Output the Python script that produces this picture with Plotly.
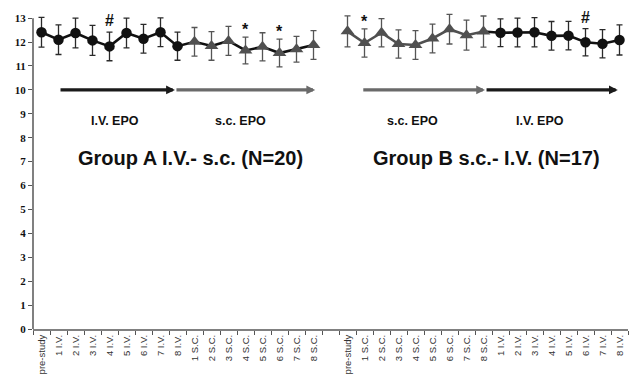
import plotly.graph_objects as go

# ---------------- data ----------------
cats_A = ["pre-study", "1 I.V.", "2 I.V.", "3 I.V.", "4 I.V.", "5 I.V.", "6 I.V.", "7 I.V.", "8 I.V.",
          "1 S.C.", "2 S.C.", "3 S.C.", "4 S.C.", "5 S.C.", "6 S.C.", "7 S.C.", "8 S.C."]
cats_B = ["pre-study", "1 S.C.", "2 S.C.", "3 S.C.", "4 S.C.", "5 S.C.", "6 S.C.", "7 S.C.", "8 S.C.",
          "1 I.V.", "2 I.V.", "3 I.V.", "4 I.V.", "5 I.V.", "6 I.V.", "7 I.V.", "8 I.V."]

A_mean = [12.41, 12.10, 12.38, 12.07, 11.82, 12.38, 12.14, 12.41, 11.83,
          12.01, 11.84, 12.05, 11.65, 11.80, 11.54, 11.70, 11.88]
A_sd = [0.62, 0.62, 0.62, 0.63, 0.60, 0.62, 0.60, 0.60, 0.59,
        0.60, 0.60, 0.61, 0.56, 0.59, 0.58, 0.54, 0.60]

B_mean = [12.45, 11.96, 12.39, 11.92, 11.88, 12.15, 12.54, 12.29, 12.44,
          12.39, 12.40, 12.41, 12.26, 12.27, 11.99, 11.93, 12.09]
B_sd = [0.65, 0.59, 0.59, 0.59, 0.60, 0.60, 0.62, 0.63, 0.65,
        0.58, 0.60, 0.61, 0.60, 0.60, 0.57, 0.59, 0.63]

y_ticks = list(range(0, 14))

# significance marks: (group, index, symbol)
marks = [("A", 4, "#"), ("A", 12, "*"), ("A", 14, "*"), ("B", 1, "*"), ("B", 14, "#")]

# ---------------- layout helpers ----------------
n = len(cats_A)
offB = n + 1  # one empty slot between the two groups
xA = list(range(n))
xB = [i + offB for i in range(n)]

BLACK = "#111111"
GRAY = "#505050"
ERR_BLACK = "#2a2a2a"
ERR_GRAY = "#555555"

fig = go.Figure()

# Group A: black connecting line over all points
fig.add_trace(go.Scatter(x=xA, y=A_mean, mode="lines", line=dict(color=BLACK, width=2.6),
                         hoverinfo="skip", showlegend=False))
# Group B: gray line on s.c. part, black on i.v. part
fig.add_trace(go.Scatter(x=xB[:9], y=B_mean[:9], mode="lines", line=dict(color=GRAY, width=2.6),
                         hoverinfo="skip", showlegend=False))
fig.add_trace(go.Scatter(x=xB[8:], y=B_mean[8:], mode="lines", line=dict(color=BLACK, width=2.6),
                         hoverinfo="skip", showlegend=False))


def pts(xs, ys, sds, symbol, color, ecolor, size):
    fig.add_trace(go.Scatter(
        x=xs, y=ys, mode="markers",
        marker=dict(symbol=symbol, color=color, size=size, line=dict(width=0)),
        error_y=dict(type="data", array=sds, visible=True, color=ecolor, thickness=1.3, width=3),
        showlegend=False, cliponaxis=False))


pts(xA[:9], A_mean[:9], A_sd[:9], "circle", BLACK, ERR_BLACK, 10.5)
pts(xA[9:], A_mean[9:], A_sd[9:], "triangle-up", GRAY, ERR_GRAY, 12)
pts(xB[:9], B_mean[:9], B_sd[:9], "triangle-up", GRAY, ERR_GRAY, 12)
pts(xB[9:], B_mean[9:], B_sd[9:], "circle", BLACK, ERR_BLACK, 10.5)

annotations = []
for g, i, s in marks:
    x = xA[i] if g == "A" else xB[i]
    m = A_mean[i] if g == "A" else B_mean[i]
    sd = A_sd[i] if g == "A" else B_sd[i]
    annotations.append(dict(x=x, y=m + sd + (0.05 if s == "#" else -0.12), text=f"<b>{s}</b>",
                            showarrow=False, yanchor="bottom",
                            font=dict(family="Liberation Sans", size=16, color=BLACK),
                            xref="x", yref="y"))

# treatment arrows
arrows = [
    (1.03, 7.85, "#1a1a1a"), (7.85, 16.1, "#6a6a6a"),
    (offB + 0.84, offB + 8.09, "#6a6a6a"), (offB + 8.09, offB + 15.9, "#1a1a1a"),
]
for x0, x1, c in arrows:
    annotations.append(dict(x=x1, y=10, ax=x0, ay=10, xref="x", yref="y", axref="x", ayref="y",
                            text="", showarrow=True, arrowhead=2, arrowsize=0.55, arrowwidth=3.2,
                            arrowcolor=c))

lab_font = dict(family="Liberation Sans", size=12.5, color=BLACK)
for x, t in [(4.32, "<b>I.V. EPO</b>"), (11.68, "<b>s.c. EPO</b>"),
             (offB + 3.85, "<b>s.c. EPO</b>"), (offB + 11.3, "<b>I.V. EPO</b>")]:
    annotations.append(dict(x=x, y=8.72, text=t, showarrow=False, font=lab_font, xref="x", yref="y"))

title_font = dict(family="Liberation Sans", size=20, color=BLACK)
annotations.append(dict(x=8.74, y=7.15, text="<b>Group A I.V.- s.c. (N=20)</b>", showarrow=False,
                        font=title_font, xref="x", yref="y"))
annotations.append(dict(x=offB + 8.2, y=7.15, text="<b>Group B s.c.- I.V. (N=17)</b>", showarrow=False,
                        font=title_font, xref="x", yref="y"))

# y axis line (only up to 13)
shapes = [dict(type="line", xref="paper", yref="y", x0=0, x1=0, y0=0, y1=13,
               line=dict(color="#808080", width=2))]

fig.update_layout(
    width=630, height=380,
    margin=dict(l=33, r=2, t=11, b=51),
    paper_bgcolor="white", plot_bgcolor="white",
    annotations=annotations, shapes=shapes,
    xaxis=dict(range=[-0.5, 2 * n + 0.5], tickmode="array",
               tickvals=xA + xB, ticktext=cats_A + cats_B,
               tickangle=-90, ticks="", showgrid=False, zeroline=False,
               showline=True, linecolor="#808080", linewidth=2, automargin=False,
               tickfont=dict(family="Liberation Sans Narrow, Liberation Sans", size=9.5, color="#333333"),
               minor=dict(ticks="outside", tick0=-0.5, dtick=1, ticklen=4, tickcolor="#555555",
                          tickwidth=1, showgrid=False),
               fixedrange=True),
    yaxis=dict(range=[0, 13.3], tickmode="array", tickvals=y_ticks,
               ticktext=[f"<b>{v}</b>" for v in y_ticks], automargin=False,
               ticks="outside", ticklen=4, tickcolor="#555555", showgrid=False, zeroline=False,
               showline=False,
               tickfont=dict(family="Liberation Serif", size=11, color=BLACK),
               fixedrange=True),
)

fig.write_html("out.html", config={"displayModeBar": False},
               post_script="document.body.style.margin='0px';document.body.style.overflow='hidden';")
